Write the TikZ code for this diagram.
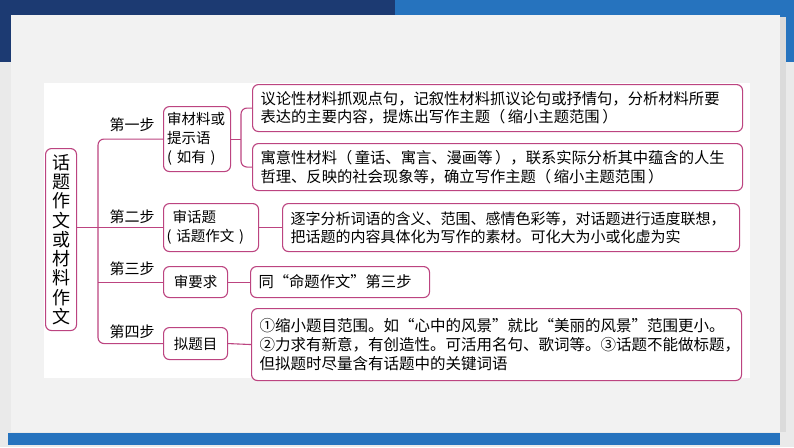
\documentclass[tikz,border=0pt]{standalone}
\usepackage{fontspec}
\newfontfamily\cjk{Noto Sans CJK SC}
\definecolor{navy}{RGB}{28,58,114}
\definecolor{blueband}{RGB}{38,115,190}
\definecolor{panel}{RGB}{242,242,242}
\definecolor{outer}{RGB}{234,234,234}
\definecolor{pinkline}{RGB}{188,68,128}
\tikzset{
  box/.style={draw=pinkline, line width=1.1pt, rounded corners=6pt, fill=white,
    inner ysep=0pt, anchor=north west, align=left},
  bodytext/.style={font=\cjk\fontsize{15.3}{18.5}\selectfont},
  conn/.style={draw=pinkline, line width=1.1pt, rounded corners=6pt},
  steplabel/.style={font=\cjk\fontsize{15}{18}\selectfont, inner sep=0pt},
}
\begin{document}
\begin{tikzpicture}[x=1pt,y=-1pt]
\useasboundingbox (0,0) rectangle (794,447);
% background
\fill[outer] (0,0) rectangle (794,447);
\fill[navy] (0,0) rectangle (395,62);
\fill[blueband] (395,0) rectangle (794,62);
\fill[black!14] (780,17) rectangle (786,432);
\fill[panel] (11,15) rectangle (780,432);
\fill[blueband] (8,433) rectangle (780,445);
\fill[white] (44,83) rectangle (750,378);

% root
\node[box, minimum width=31pt, minimum height=182pt, inner xsep=0pt, align=center,
  font=\cjk\fontsize{18}{19.25}\selectfont] (root) at (45,148)
  {话\\题\\作\\文\\或\\材\\料\\作\\文};

% step boxes
\node[box, minimum width=67pt, minimum height=65pt, inner xsep=3.5pt, text width=60pt,
  font=\cjk\fontsize{14.5}{19}\selectfont] (b1) at (163,106) {审材料或\\提示语\\(\ 如有\ )};
\node[box, minimum width=95pt, minimum height=48pt, inner xsep=3pt, text width=89pt,
  font=\cjk\fontsize{14.5}{19}\selectfont] (b2) at (163,203) {\hspace{6pt}审话题\\(\ 话题作文\ )};
\node[box, minimum width=64pt, minimum height=31pt, inner xsep=0pt, align=center,
  font=\cjk\fontsize{14.5}{19}\selectfont] (b3) at (163,266) {审要求};
\node[box, minimum width=64pt, minimum height=32pt, inner xsep=0pt, align=center,
  font=\cjk\fontsize{14.5}{19}\selectfont] (b4) at (163,327) {拟题目};

% step labels
\node[steplabel] (s1) at (132,125) {第一步};
\node[steplabel] (s2) at (132,217) {第二步};
\node[steplabel] (s3) at (132,269) {第三步};
\node[steplabel] (s4) at (132,332) {第四步};

% content boxes
\node[box, bodytext, minimum width=490pt, minimum height=47pt, inner xsep=8pt, text width=474pt] (bA) at (252,84)
  {议论性材料抓观点句，记叙性材料抓议论句或抒情句，分析材料所要\\表达的主要内容，提炼出写作主题（\,缩小主题范围\,）};
\node[box, bodytext, minimum width=490pt, minimum height=47pt, inner xsep=8pt, text width=474pt] (bB) at (252,143)
  {寓意性材料（\,童话、寓言、漫画等\,），联系实际分析其中蕴含的人生\\哲理、反映的社会现象等，确立写作主题（\,缩小主题范围\,）};
\node[box, font=\cjk\fontsize{15}{18}\selectfont, minimum width=457pt, minimum height=48pt, inner xsep=8pt, text width=441pt] (bC) at (282,203)
  {逐字分析词语的含义、范围、感情色彩等，对话题进行适度联想，\\把话题的内容具体化为写作的素材。可化大为小或化虚为实};
\node[box, bodytext, minimum width=179pt, minimum height=31pt, inner xsep=8pt, text width=163pt] (bD) at (250,266)
  {同“命题作文”第三步};
\node[box, minimum width=490pt, minimum height=72pt, inner xsep=8pt, text width=474pt,
  font=\cjk\fontsize{15.5}{19}\selectfont] (bE) at (251,308)
  {①缩小题目范围。如“心中的风景”就比“美丽的风景”范围更小。\\②力求有新意，有创造性。可活用名句、歌词等。③话题不能做标题，\\但拟题时尽量含有话题中的关键词语};

% connectors
\coordinate (tr) at (98,240);
\coordinate (br) at (241,138);
\draw[conn] (b1.west) -| (tr) |- (b4.west);
\draw[conn] (root.east |- b2.west) -- (b2.west);
\draw[conn] (b3.west) -- (b3.west -| tr);
\draw[conn] (bA.west) -| (br) |- (bB.west);
\draw[conn] (b1.east) -- (b1.east -| br);
\draw[conn] (b2.east) -- (bC.west);
\draw[conn] (b3.east) -- (bD.west);
\draw[conn] (b4.east) -- (bE.west);
\end{tikzpicture}
\end{document}
